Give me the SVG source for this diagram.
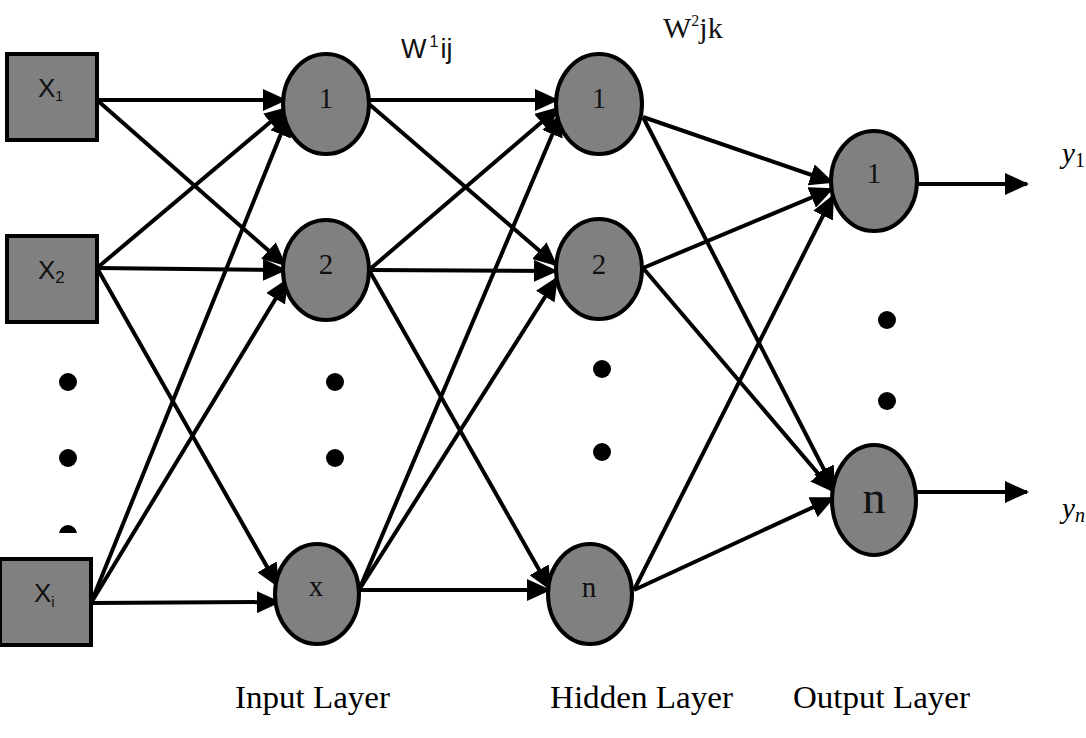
<svg xmlns="http://www.w3.org/2000/svg" width="1086" height="738" viewBox="0 0 1086 738">
<style>
.sq{fill:#808080;stroke:#000;stroke-width:4}
.nd{fill:#808080;stroke:#000;stroke-width:4}
.ln{stroke:#000;stroke-width:4;fill:none;marker-end:url(#ah)}
.lt{font-family:"Liberation Serif",serif;font-size:29px;fill:#111;text-anchor:middle}
.sx{font-family:"Liberation Sans",sans-serif;font-size:26px;fill:#111}
.sf{font-family:"Liberation Serif",serif;fill:#111}
.cap{font-family:"Liberation Serif",serif;font-size:32px;fill:#000}
.dot{fill:#000}
</style>
<defs>
<marker id="ah" markerUnits="userSpaceOnUse" viewBox="0 0 24 22" refX="22" refY="11" markerWidth="24" markerHeight="22" orient="auto">
<path d="M0,0 L24,11 L0,22 z" fill="#000"/>
</marker>
<clipPath id="cut"><rect x="0" y="500" width="200" height="33"/></clipPath>
</defs>
<rect width="1086" height="738" fill="#fff"/>
<g id="connectors">
<line class="ln" x1="97" y1="100" x2="285" y2="100"/>
<line class="ln" x1="97" y1="100" x2="285" y2="265"/>
<line class="ln" x1="97" y1="268" x2="287" y2="108"/>
<line class="ln" x1="97" y1="268" x2="285" y2="270"/>
<line class="ln" x1="97" y1="268" x2="278" y2="586"/>
<line class="ln" x1="91" y1="603" x2="289" y2="114"/>
<line class="ln" x1="91" y1="603" x2="287" y2="280"/>
<line class="ln" x1="91" y1="603" x2="279" y2="602"/>
<line class="ln" x1="369" y1="100" x2="557" y2="100"/>
<line class="ln" x1="369" y1="104" x2="556" y2="265"/>
<line class="ln" x1="369" y1="270" x2="558" y2="108"/>
<line class="ln" x1="369" y1="270" x2="556" y2="271"/>
<line class="ln" x1="369" y1="270" x2="550" y2="589"/>
<line class="ln" x1="359" y1="590" x2="561" y2="114"/>
<line class="ln" x1="359" y1="590" x2="557" y2="278"/>
<line class="ln" x1="359" y1="590" x2="549" y2="590"/>
<line class="ln" x1="643" y1="117" x2="832" y2="182"/>
<line class="ln" x1="643" y1="117" x2="834" y2="489"/>
<line class="ln" x1="643" y1="268" x2="832" y2="189"/>
<line class="ln" x1="643" y1="268" x2="833" y2="491"/>
<line class="ln" x1="634" y1="590" x2="833" y2="196"/>
<line class="ln" x1="634" y1="590" x2="833" y2="498"/>
<line class="ln" x1="918" y1="184" x2="1027" y2="184"/>
<line class="ln" x1="917" y1="492" x2="1027" y2="492"/>
</g>
<g id="x1"><rect class="sq" x="7" y="54" width="90" height="86"/><text class="sx" x="38" y="97">X<tspan style="font-size:14px" dy="4">1</tspan></text></g>
<g id="x2"><rect class="sq" x="7" y="236" width="90" height="86"/><text class="sx" x="38" y="279">X<tspan style="font-size:17px" dy="4">2</tspan></text></g>
<g id="xi"><rect class="sq" x="0" y="559" width="91" height="86"/><text class="sx" x="34" y="602">X<tspan style="font-size:15px" dy="5">i</tspan></text></g>
<g id="left-dots"><circle class="dot" cx="68" cy="382" r="9"/><circle class="dot" cx="68" cy="458" r="9"/><circle class="dot" cx="68" cy="534" r="9" clip-path="url(#cut)"/></g>
<g id="in1"><ellipse class="nd" cx="326" cy="104" rx="43" ry="50"/><text class="lt" x="326" y="108">1</text></g>
<g id="in2"><ellipse class="nd" cx="326" cy="270" rx="43" ry="50"/><text class="lt" x="326" y="274">2</text></g>
<g id="inx"><ellipse class="nd" cx="317" cy="594" rx="42" ry="50"/><text class="lt" x="316" y="596">x</text></g>
<g id="in-dots"><circle class="dot" cx="335" cy="382" r="9"/><circle class="dot" cx="335" cy="458" r="9"/></g>
<g id="h1"><ellipse class="nd" cx="599" cy="104" rx="43" ry="50"/><text class="lt" x="599" y="108">1</text></g>
<g id="h2"><ellipse class="nd" cx="599" cy="269" rx="43" ry="50"/><text class="lt" x="599" y="274">2</text></g>
<g id="hn"><ellipse class="nd" cx="590" cy="594" rx="42" ry="50"/><text class="lt" x="589" y="597">n</text></g>
<g id="h-dots"><circle class="dot" cx="602" cy="369" r="9"/><circle class="dot" cx="602" cy="452" r="9"/></g>
<g id="o1"><ellipse class="nd" cx="874" cy="181" rx="43" ry="50"/><text class="lt" x="874" y="183">1</text></g>
<g id="on"><ellipse class="nd" cx="874" cy="500" rx="42" ry="55"/><text class="lt" x="874" y="513" style="font-size:46px">n</text></g>
<g id="o-dots"><circle class="dot" cx="887" cy="320" r="9"/><circle class="dot" cx="887" cy="401" r="9"/></g>
<g id="labels">
<text class="sx" x="401" y="58" style="font-size:27px">W<tspan style="font-size:16px" dx="3" dy="-11">1</tspan><tspan dx="2" dy="11">ij</tspan></text>
<text class="sf" x="663" y="38" style="font-size:30px">W<tspan style="font-size:16px" dy="-12">2</tspan><tspan dy="12">jk</tspan></text>
<text class="sf" x="1062" y="163" style="font-size:29px;font-style:italic;fill:#000">y<tspan style="font-size:20px;font-style:normal" dy="4">1</tspan></text>
<text class="sf" x="1062" y="518" style="font-size:29px;font-style:italic;fill:#000">y<tspan style="font-size:20px" dy="4">n</tspan></text>
<text class="cap" x="235" y="708" textLength="155" lengthAdjust="spacingAndGlyphs">Input Layer</text>
<text class="cap" x="550" y="708" textLength="183" lengthAdjust="spacingAndGlyphs">Hidden Layer</text>
<text class="cap" x="793" y="708" textLength="177" lengthAdjust="spacingAndGlyphs">Output Layer</text>
</g>
</svg>
